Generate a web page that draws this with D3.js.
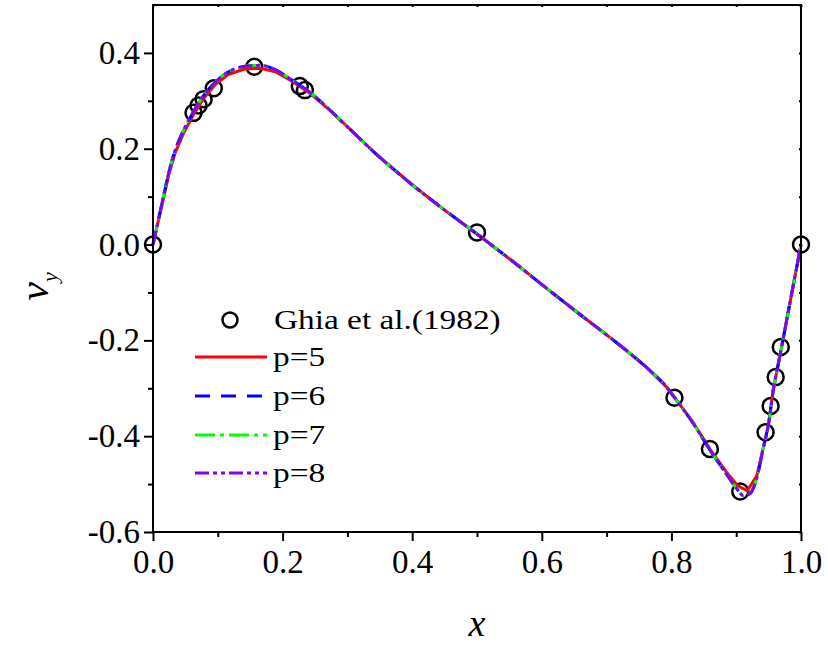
<!DOCTYPE html>
<html>
<head>
<meta charset="utf-8">
<script src="https://cdn.jsdelivr.net/npm/d3@7"></script>
<style>
  body { margin: 0; background: #fff; }
  text { font-family: "Liberation Serif", "DejaVu Serif", serif; fill: #000; }
</style>
</head>
<body>
<div id="chart"></div>
<script>
// Ghia et al. (1982), Re=1000, v along horizontal centreline
const ghiaX = [0, 0.0625, 0.0703, 0.0781, 0.0938, 0.1563, 0.2266, 0.2344, 0.5, 0.8047, 0.8594, 0.9063, 0.9453, 0.9531, 0.9609, 0.9688, 1.0]
const ghiaV = [0, 0.27485, 0.29012, 0.30353, 0.32627, 0.37095, 0.33075, 0.32235, 0.02526, -0.31966, -0.42665, -0.51550, -0.39188, -0.33714, -0.27669, -0.21388, 0]

// curves
const curveX = [0, 0.008, 0.016, 0.024, 0.034, 0.047, 0.062, 0.078, 0.096, 0.116, 0.142, 0.167, 0.19, 0.216, 0.242, 0.268, 0.299, 0.345, 0.397, 0.448, 0.5, 0.556, 0.608, 0.659, 0.71, 0.762, 0.793, 0.803, 0.834, 0.86, 0.885, 0.9, 0.911, 0.921, 0.932, 0.942, 0.95, 0.957, 0.965, 0.973, 0.985, 1.0]
const vP6 = [0, 0.05, 0.099, 0.148, 0.196, 0.238, 0.276, 0.311, 0.339, 0.36, 0.372, 0.374, 0.364, 0.342, 0.318, 0.287, 0.247, 0.188, 0.128, 0.074, 0.022, -0.036, -0.092, -0.146, -0.199, -0.257, -0.298, -0.316, -0.374, -0.43, -0.479, -0.508, -0.524, -0.52, -0.486, -0.423, -0.374, -0.305, -0.249, -0.193, -0.107, 0]
const vP7 = [0, 0.05, 0.099, 0.148, 0.196, 0.238, 0.276, 0.311, 0.339, 0.36, 0.372, 0.374, 0.364, 0.342, 0.318, 0.287, 0.247, 0.188, 0.128, 0.074, 0.022, -0.036, -0.092, -0.146, -0.199, -0.257, -0.298, -0.316, -0.374, -0.43, -0.479, -0.508, -0.524, -0.52, -0.486, -0.423, -0.374, -0.305, -0.249, -0.193, -0.107, 0]
const vP8 = [0, 0.05, 0.099, 0.148, 0.196, 0.238, 0.276, 0.311, 0.339, 0.36, 0.372, 0.374, 0.364, 0.342, 0.318, 0.287, 0.247, 0.188, 0.128, 0.074, 0.022, -0.036, -0.092, -0.146, -0.199, -0.257, -0.298, -0.316, -0.374, -0.43, -0.479, -0.508, -0.524, -0.52, -0.486, -0.423, -0.374, -0.305, -0.249, -0.193, -0.107, 0]
const redX = [0, 0.008, 0.016, 0.024, 0.034, 0.047, 0.062, 0.078, 0.096, 0.116, 0.142, 0.167, 0.19, 0.216, 0.242, 0.268, 0.299, 0.345, 0.397, 0.448, 0.5, 0.556, 0.608, 0.659, 0.71, 0.762, 0.793, 0.803, 0.834, 0.86, 0.885, 0.902, 0.917, 0.932, 0.942, 0.95, 0.957, 0.965, 0.973, 0.985, 1.0]
const vP5 = [0, 0.048, 0.096, 0.144, 0.191, 0.232, 0.270, 0.305, 0.334, 0.355, 0.367, 0.368, 0.360, 0.340, 0.316, 0.286, 0.247, 0.188, 0.128, 0.074, 0.022, -0.036, -0.092, -0.146, -0.199, -0.257, -0.298, -0.316, -0.372, -0.428, -0.475, -0.503, -0.514, -0.482, -0.423, -0.374, -0.305, -0.249, -0.193, -0.107, 0]

const seriesNames = ['p=5', 'p=6', 'p=7', 'p=8']
const seriesColors = ['#ff0000', '#0000ff', '#00ff00', '#8000ff']
const seriesDash = ['none', '15,11', '20,5,4,5', '14,4,4,4,4,4']
const seriesX = [redX, curveX, curveX, curveX]
const seriesV = [vP5, vP6, vP7, vP8]

const xTicks = [0, 0.2, 0.4, 0.6, 0.8, 1.0]
const xMinor = [0.1, 0.3, 0.5, 0.7, 0.9]
const yTicks = [-0.6, -0.4, -0.2, 0.0, 0.2, 0.4]
const yMinor = [-0.5, -0.3, -0.1, 0.1, 0.3]

const W = 828, H = 645
const margin = { left: 153, right: 27, top: 5, bottom: 113 }
const serif = '"Liberation Serif", "DejaVu Serif", serif'
const fmt = d => d3.format('.1f')(d).replace('\u2212', '-')

const svg = d3.select('#chart').append('svg')
    .attr('width', W).attr('height', H)

const x = d3.scaleLinear().domain([0, 1]).range([margin.left, W - margin.right])
const y = d3.scaleLinear().domain([-0.6, 0.5]).range([H - margin.bottom, margin.top])

// Ghia circles
svg.append('g').selectAll('circle')
    .data(ghiaX.map((d, i) => [d, ghiaV[i]]))
    .join('circle')
    .attr('cx', d => x(d[0])).attr('cy', d => y(d[1]))
    .attr('r', 8)
    .attr('fill', 'none').attr('stroke', '#000').attr('stroke-width', 2.5)

// curves
const line = d3.line().x(d => x(d[0])).y(d => y(d[1]))
seriesNames.forEach((name, k) => {
    const pts = seriesX[k].map((d, i) => [d, seriesV[k][i]])
    svg.append('path')
        .attr('d', line.curve(k === 0 ? d3.curveLinear : d3.curveMonotoneX)(pts))
        .attr('fill', 'none')
        .attr('stroke', seriesColors[k])
        .attr('stroke-width', 3)
        .attr('stroke-dasharray', seriesDash[k])
})

// axes
const x0 = x.range()[0], x1 = x.range()[1], y0 = y.range()[0], y1 = y.range()[1]
const xAxis = svg.append('g').attr('transform', `translate(0,${y0})`)
    .call(d3.axisBottom(x).tickValues(xTicks).tickSize(9).tickPadding(9).tickFormat(fmt))
svg.append('g').attr('transform', `translate(0,${y0})`)
    .call(d3.axisBottom(x).tickValues(xMinor).tickSize(5).tickFormat(''))
const yAxis = svg.append('g').attr('transform', `translate(${x0},0)`)
    .call(d3.axisLeft(y).tickValues(yTicks).tickSize(9).tickPadding(4).tickFormat(fmt))
svg.append('g').attr('transform', `translate(${x0},0)`)
    .call(d3.axisLeft(y).tickValues(yMinor).tickSize(5).tickFormat(''))
svg.append('g').attr('transform', `translate(0,${y1})`)
    .call(d3.axisBottom(x).tickValues(xTicks.concat(xMinor)).tickSize(2).tickFormat(''))
svg.append('g').attr('transform', `translate(${x1},0)`)
    .call(d3.axisLeft(y).tickValues(yTicks.concat(yMinor, [0.5])).tickSize(2).tickFormat(''))

svg.selectAll('.domain').remove()
svg.selectAll('.tick line').attr('stroke', '#000').attr('stroke-width', 2)
;[xAxis, yAxis].forEach(a => a.attr('font-family', serif).attr('font-size', 33))
svg.selectAll('.tick text').attr('fill', '#000')
    .attr('font-family', serif).style('font-family', serif).style('font-size', '33px')
xAxis.selectAll('.tick text').attr('dy', '0.71em')

svg.append('rect')
    .attr('x', x0).attr('y', y1).attr('width', x1 - x0).attr('height', y0 - y1)
    .attr('fill', 'none').attr('stroke', '#000').attr('stroke-width', 2)

// axis titles
svg.append('text')
    .attr('x', (x0 + x1) / 2).attr('y', 636)
    .attr('text-anchor', 'middle')
    .style('font-size', '38px').style('font-style', 'italic')
    .text('x')
const yt = svg.append('text')
    .attr('transform', `translate(48,${(y0 + y1) / 2 + 18}) rotate(-90)`)
    .attr('text-anchor', 'middle')
    .style('font-size', '42px').style('font-style', 'italic')
yt.append('tspan').text('v')
yt.append('tspan').attr('dy', 9).style('font-size', '22px').text('y')

// legend
const lg = svg.append('g')
const rowY = [320, 357, 396, 435, 473]
const legendText = (t, xx, yy) => {
    const el = lg.append('text').attr('x', xx).attr('y', yy).style('font-size', '28px').text(t)
    const w = el.node().getComputedTextLength()
    el.attr('textLength', w * 1.19).attr('lengthAdjust', 'spacingAndGlyphs')
}
lg.append('circle').attr('cx', 230).attr('cy', rowY[0]).attr('r', 7.5)
    .attr('fill', 'none').attr('stroke', '#000').attr('stroke-width', 2.5)
legendText('Ghia et al.(1982)', 274, rowY[0] + 9)
seriesNames.forEach((name, k) => {
    lg.append('line')
        .attr('x1', 195).attr('x2', 267)
        .attr('y1', rowY[k + 1]).attr('y2', rowY[k + 1])
        .attr('stroke', seriesColors[k]).attr('stroke-width', 3)
        .attr('stroke-dasharray', seriesDash[k])
    legendText(name, 273, rowY[k + 1] + 9)
})
</script>
</body>
</html>
